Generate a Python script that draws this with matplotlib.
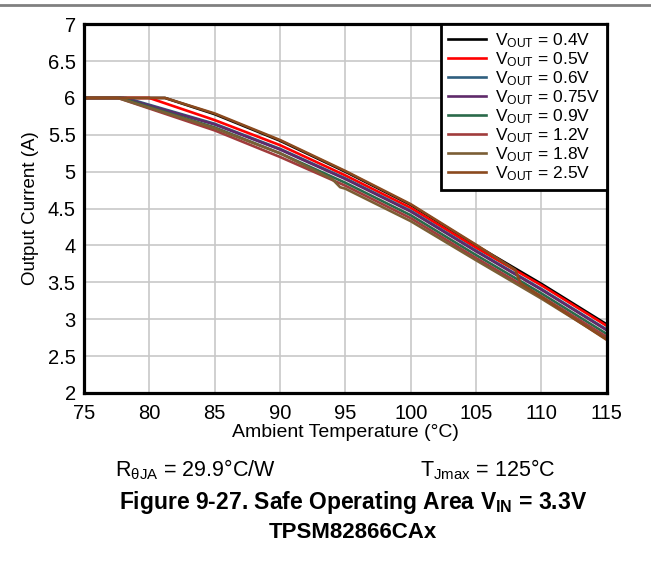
# Safe operating area chart, VIN = 3.3V, TPSM82866CAx

import matplotlib
matplotlib.use('Agg')
import matplotlib.pyplot as plt
from matplotlib.lines import Line2D

plt.rcParams['font.family'] = ['Liberation Sans', 'DejaVu Sans']
plt.rcParams['mathtext.fontset'] = 'custom'
plt.rcParams['mathtext.rm'] = 'Liberation Sans'
plt.rcParams['mathtext.it'] = 'Liberation Sans:italic'
plt.rcParams['mathtext.bf'] = 'Liberation Sans:bold'

# Data (ambient temperature in C, output current in A)
t_04 = [75, 81.2, 85, 90, 95, 100, 105, 110, 115]
i_04 = [6, 6, 5.78, 5.42, 5.00, 4.55, 4.00, 3.48, 2.93]

t_05 = [75, 80.0, 85, 90, 95, 100, 105, 110, 115]
i_05 = [6, 6, 5.70, 5.36, 4.95, 4.51, 3.97, 3.46, 2.91]

t_06 = [75, 78.2, 85, 90, 95, 100, 105, 110, 115]
i_06 = [6, 6, 5.65, 5.31, 4.91, 4.47, 3.93, 3.41, 2.86]

t_075 = [75, 78.0, 85, 90, 95, 100, 105, 110, 115]
i_075 = [6, 6, 5.64, 5.30, 4.90, 4.46, 3.92, 3.40, 2.85]

t_09 = [75, 77.8, 85, 90, 95, 100, 105, 110, 115]
i_09 = [6, 6, 5.60, 5.25, 4.85, 4.41, 3.87, 3.35, 2.80]

t_12 = [75, 77.6, 85, 90, 95, 100, 105, 110, 115]
i_12 = [6, 6, 5.56, 5.20, 4.81, 4.37, 3.83, 3.31, 2.76]

t_18 = [75, 77.6, 85, 90, 94.0, 94.6, 95, 100, 105, 110, 115]
i_18 = [6, 6, 5.59, 5.25, 4.90, 4.79, 4.77, 4.33, 3.80, 3.28, 2.73]

t_25 = [75, 81.2, 85, 90, 95, 100, 105, 108.0, 108.4, 110, 115]
i_25 = [6, 6, 5.79, 5.43, 5.01, 4.56, 4.01, 3.67, 3.49, 3.30, 2.72]

series = [
    ('0.4V', t_04, i_04, '#000000'),
    ('0.5V', t_05, i_05, '#ff0000'),
    ('0.6V', t_06, i_06, '#2f5f7f'),
    ('0.75V', t_075, i_075, '#5f2a6a'),
    ('0.9V', t_09, i_09, '#2a6a4a'),
    ('1.2V', t_12, i_12, '#a03c3c'),
    ('1.8V', t_18, i_18, '#7b5e35'),
    ('2.5V', t_25, i_25, '#8b4a1e'),
]

x_ticks = [75, 80, 85, 90, 95, 100, 105, 110, 115]
y_ticks = [2, 2.5, 3, 3.5, 4, 4.5, 5, 5.5, 6, 6.5, 7]
y_labels = ['2', '2.5', '3', '3.5', '4', '4.5', '5', '5.5', '6', '6.5', '7']

fig = plt.figure(figsize=(6.51, 5.63), dpi=100)
ax = fig.add_axes([0.129, 0.302, 0.803, 0.655])

for name, t, i, c in series:
    ax.plot(t, i, color=c, lw=1.9, label=r'V$_{\mathregular{OUT}}$ = ' + name)

ax.set_xlim(75, 115)
ax.set_ylim(2, 7)
ax.set_xticks(x_ticks)
ax.set_yticks(y_ticks)
ax.set_yticklabels(y_labels)
ax.tick_params(length=0, labelsize=14.5)
ax.tick_params(axis='x', pad=8)
ax.tick_params(axis='y', pad=6)
ax.grid(color='#c8c8c8', lw=1.2)
ax.set_axisbelow(True)
for s in ax.spines.values():
    s.set_linewidth(2.3)

ax.set_xlabel('Ambient Temperature (°C)', fontsize=14, labelpad=1)
ax.set_ylabel('Output Current (A)', fontsize=13.5, labelpad=6)

leg = ax.legend(loc='upper right', fontsize=12.5, borderaxespad=0,
                handlelength=2.2, labelspacing=0.02, handletextpad=0.5,
                borderpad=0.4, fancybox=False, framealpha=1)
leg.get_frame().set_edgecolor('black')
leg.get_frame().set_linewidth(2)

# grey rule at the very top
fig.add_artist(Line2D([0, 1], [0.991, 0.991], color='#808080', lw=2))

fig.text(0.177, 0.165, r'R$_{\mathregular{\theta JA}}$ = 29.9°C/W', fontsize=15.5, ha='left', va='center')
fig.text(0.645, 0.165, r'T$_{\mathregular{Jmax}}$ = 125°C', fontsize=15.5, ha='left', va='center')
fig.text(0.542, 0.108, r'Figure 9-27. Safe Operating Area V$_{\mathbf{IN}}$ = 3.3V',
         fontsize=16.5, fontweight='bold', ha='center', va='center')
fig.text(0.542, 0.055, 'TPSM82866CAx', fontsize=16, fontweight='bold', ha='center', va='center')

fig.savefig('out.png', dpi=100)
